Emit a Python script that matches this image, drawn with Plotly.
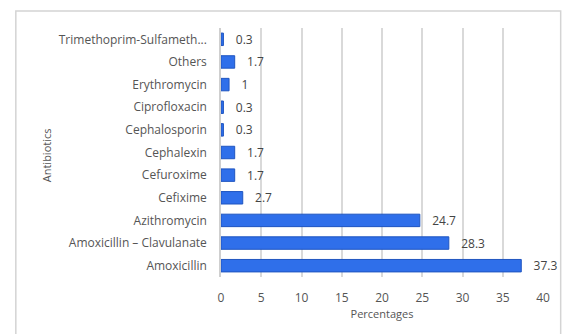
import plotly.graph_objects as go

categories = ["Amoxicillin", "Amoxicillin – Clavulanate", "Azithromycin", "Cefixime",
              "Cefuroxime", "Cephalexin", "Cephalosporin", "Ciprofloxacin",
              "Erythromycin", "Others", "Trimethoprim-Sulfameth..."]
values = [37.3, 28.3, 24.7, 2.7, 1.7, 1.7, 0.3, 0.3, 1, 1.7, 0.3]
labels = ["37.3", "28.3", "24.7", "2.7", "1.7", "1.7", "0.3", "0.3", "1", "1.7", "0.3"]
x_ticks = [0, 5, 10, 15, 20, 25, 30, 35, 40]

W, H = 562, 334
L, R, T, B = 221, 13, 28, 57
pw, ph = W - L - R, H - T - B

font = "Open Sans, Lato, sans-serif"

fig = go.Figure(go.Bar(
    y=categories, x=values, orientation="h",
    text=labels, texttemplate="   %{text}", textposition="outside",
    cliponaxis=False, constraintext="none",
    textfont=dict(family=font, size=12, color="#444"),
    marker=dict(color="#2f6fea", line=dict(color="#1f55c0", width=1)),
    width=0.55,
))

fig.update_layout(
    width=W, height=H, margin=dict(l=L, r=R, t=T, b=B),
    paper_bgcolor="white", plot_bgcolor="white",
    showlegend=False, bargap=0.45,
    xaxis=dict(range=[0, 40], tickvals=x_ticks, showgrid=True, gridcolor="#d9d9d9",
               gridwidth=1.5, zeroline=False, showline=False, ticks="",
               ticklabelstandoff=12,
               tickfont=dict(family=font, size=12, color="#555"),
               title=dict(text="Percentages", font=dict(family=font, size=11, color="#555"), standoff=4)),
    yaxis=dict(type="category", categoryorder="array", categoryarray=categories,
               showgrid=False, showline=True, linecolor="#cfcfcf", linewidth=1.5,
               ticks="", ticklabelstandoff=10,
               tickfont=dict(family=font, size=12, color="#555")),
    annotations=[dict(text="Antibiotics", xref="paper", yref="paper",
                      x=(43 - L) / pw, y=(H - B - 155) / ph, textangle=-90,
                      xanchor="center", yanchor="middle",
                      showarrow=False, font=dict(family=font, size=11, color="#555"))],
    shapes=[dict(type="rect", xref="paper", yref="paper",
                 x0=(12 - L) / pw, x1=(W + 5 - L) / pw,
                 y0=(H - B - (H + 5)) / ph, y1=(H - B - 11) / ph,
                 line=dict(color="#d4d4d4", width=1.5), layer="below")],
)

fig.write_html("out.html")
